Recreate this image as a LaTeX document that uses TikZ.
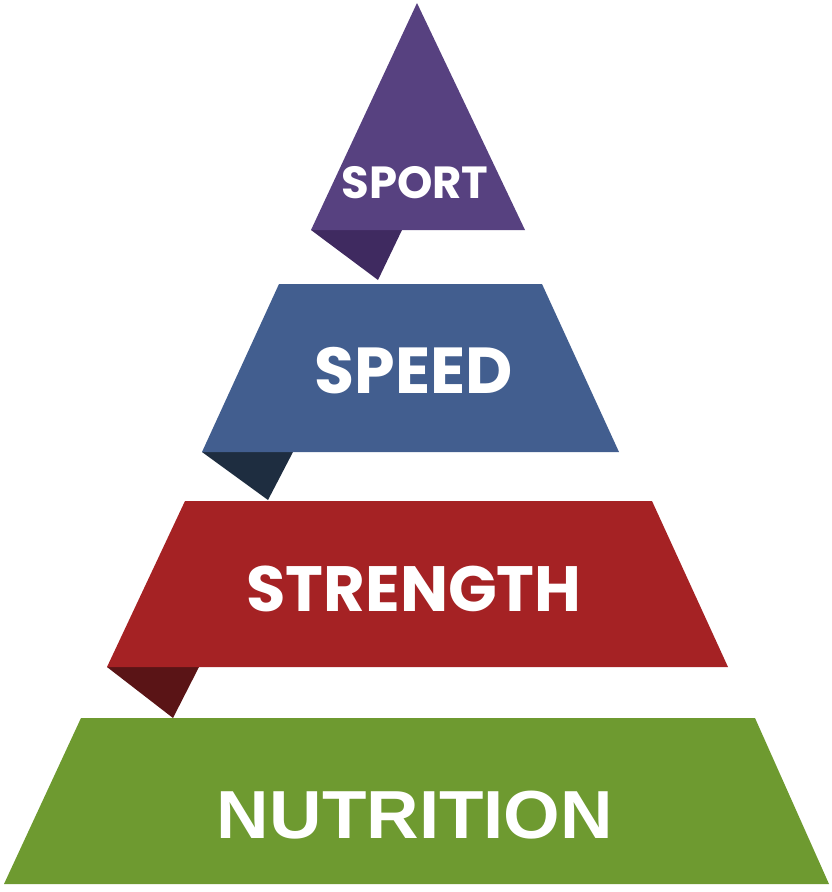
\documentclass[tikz,border=0pt]{standalone}
\usepackage{fontspec}
\newfontfamily\ribbonfont{Poppins}
\newfontfamily\basefont{Liberation Sans}
\definecolor{sportcol}{HTML}{574180}
\definecolor{sportfold}{HTML}{3F2A60}
\definecolor{speedcol}{HTML}{425E8F}
\definecolor{speedfold}{HTML}{1E2D40}
\definecolor{strengthcol}{HTML}{A52224}
\definecolor{strengthfold}{HTML}{5A1416}
\definecolor{nutritioncol}{HTML}{6E9A30}
\newcommand{\textsz}[1]{\fontsize{#1}{#1}\selectfont}

\begin{document}
\begin{tikzpicture}[x=1pt,y=-1pt,
	tier/.style={inner sep=0pt,anchor=base,text=white,font=\ribbonfont\bfseries}]
	\useasboundingbox (0,0) rectangle (831,892);
	% bottom tier
	\fill[nutritioncol] (81,718) -- (755,718) -- (829,884) -- (4,884) -- cycle;
	% ribbon folds under the upper tiers
	\foreach \l/\m/\r/\y/\d/\c in
	{
		107/173/199/667/718/strengthfold,
		202/268/293/452/500/speedfold,
		311/378/402/230/280/sportfold}
	\fill[\c] (\l,\y) -- (\m,\d) -- (\r,\y) -- cycle;
	% upper tiers
	\fill[strengthcol] (185,501) -- (652,501) -- (728,667) -- (107,667) -- cycle;
	\fill[speedcol] (279,284) -- (542,284) -- (619,452) -- (202,452) -- cycle;
	\fill[sportcol] (417,3) -- (525,230) -- (311,230) -- cycle;
	% labels
	\node[tier,font=\ribbonfont\bfseries\textsz{45}] (sport) at (415,198) {SPORT};
	\node[tier,font=\ribbonfont\bfseries\textsz{65}] (speed) at (414,393) {SPEED};
	\node[tier,font=\ribbonfont\bfseries\textsz{64}] (strength) at (414,611) {STRENGTH};
	\node[tier,font=\basefont\bfseries\textsz{68},xscale=1.07,transform shape] (nutrition) at (415,838) {NUTRITION};
\end{tikzpicture}
\end{document}
